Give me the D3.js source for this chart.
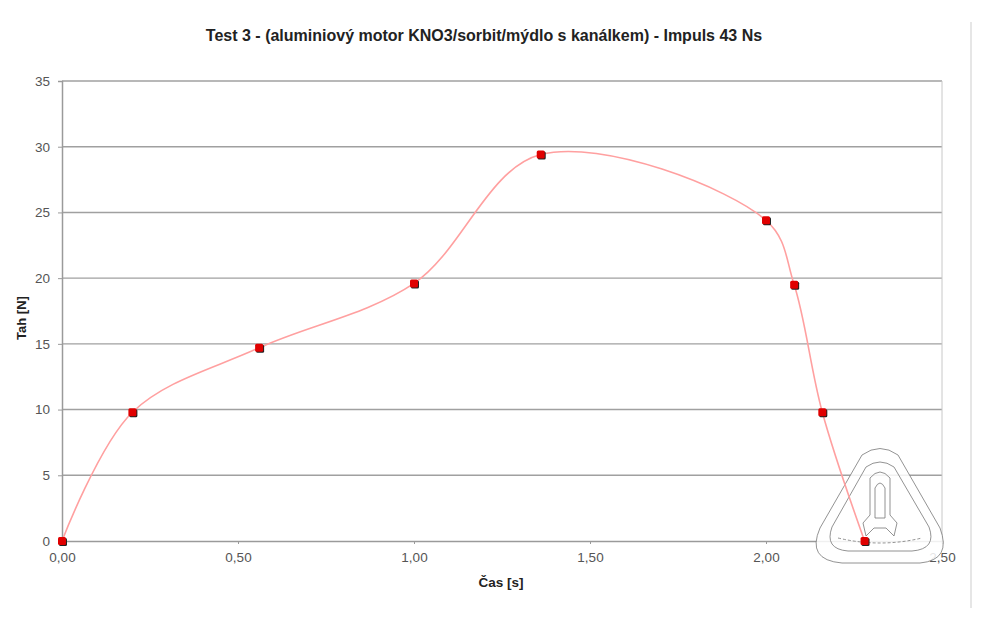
<!DOCTYPE html>
<html>
<head>
<meta charset="utf-8">
<script src="https://cdn.jsdelivr.net/npm/d3@7/dist/d3.min.js"></script>
<style>
  body { margin: 0; background: #fff; }
  svg { display: block; font-family: "Liberation Sans", Arial, sans-serif; }
</style>
</head>
<body>
<script>
// measured thrust curve
var times  = [0, 0.20, 0.56, 1.00, 1.36, 2.00, 2.08, 2.16, 2.28];
var thrust = [0, 9.8, 14.7, 19.6, 29.4, 24.4, 19.5, 9.8, 0];
var xTicks = [0, 0.5, 1.0, 1.5, 2.0, 2.5];
var yTicks = [0, 5, 10, 15, 20, 25, 30, 35];

var W = 1000, H = 621;
var m = {left: 62, right: 58, top: 81, bottom: 80};

var svg = d3.select("body").append("svg").attr("width", W).attr("height", H);

var x = d3.scaleLinear().domain([0, 2.5]).range([m.left, W - m.right]);
var y = d3.scaleLinear().domain([0, 35]).range([H - m.bottom, m.top]);

// right border of the chart area
svg.append("line")
  .attr("x1", 971).attr("x2", 971).attr("y1", 22).attr("y2", 608)
  .attr("stroke", "#e6e6e6").attr("stroke-width", 2);

// gridlines
svg.append("g").selectAll("line").data(yTicks.slice(1)).enter().append("line")
  .attr("x1", x(0)).attr("x2", x(2.5))
  .attr("y1", function(d){ return y(d); }).attr("y2", function(d){ return y(d); })
  .attr("stroke", "#a0a0a0").attr("stroke-width", 1.4);

// plot right edge
svg.append("line")
  .attr("x1", x(2.5)).attr("x2", x(2.5)).attr("y1", y(35)).attr("y2", y(0))
  .attr("stroke", "#c8c8c8").attr("stroke-width", 1);

// axes
var yAxis = d3.axisLeft(y).tickValues(yTicks).tickSize(4).tickPadding(8);
var gy = svg.append("g").attr("transform", "translate(" + x(0) + ",0)").call(yAxis);
var xAxis = d3.axisBottom(x).tickValues(xTicks).tickSize(3).tickPadding(8)
  .tickFormat(function(d){ return d3.format(".2f")(d).replace(".", ","); });
var gx = svg.append("g").attr("transform", "translate(0," + y(0) + ")").call(xAxis);

[gx, gy].forEach(function(g){
  g.select(".domain").attr("stroke", "#9a9a9a").attr("stroke-width", 1.5);
  g.selectAll(".tick line").attr("stroke", "#9a9a9a");
  g.selectAll(".tick text").attr("fill", "#555").style("font-size", "13.5px")
    .style("font-family", "'Liberation Sans', Arial, sans-serif");
});

// watermark logo (rounded triangle with rocket)
var wm = svg.append("g").attr("fill", "none").attr("stroke", "#777").attr("stroke-width", 0.8);
wm.append("path")
  .attr("d", "M862,455 Q880,442 898,455 L940,528 Q952,560 920,563 L842,563 Q806,560 820,528 Z")
  .attr("fill", "rgba(255,255,255,0.85)");
wm.append("path")
  .attr("d", "M866,467 Q880,457 894,467 L929,527 Q937,549 912,551 L848,551 Q824,549 832,527 Z");
wm.append("path")
  .attr("d", "M870,478 Q880,466 890,478 L890,515 L897,523 L894,536 L886,528 L874,528 L866,536 L863,523 L870,515 Z");
wm.append("path")
  .attr("d", "M875,488 Q880,478 885,488 L885,518 L875,518 Z");
wm.append("path")
  .attr("d", "M838,538 Q880,548 922,538").attr("stroke-dasharray", "3,2");

// smoothed series
var pts = times.map(function(t, i){ return [t, thrust[i]]; });
var line = d3.line()
  .x(function(d){ return x(d[0]); })
  .y(function(d){ return y(d[1]); })
  .curve(d3.curveCatmullRom.alpha(0.5));
svg.append("path").datum(pts)
  .attr("d", line)
  .attr("fill", "none").attr("stroke", "#ffa0a0").attr("stroke-width", 1.6);

// markers with shadow
var mk = svg.append("g").selectAll("g").data(pts).enter().append("g")
  .attr("transform", function(d){ return "translate(" + x(d[0]) + "," + y(d[1]) + ")"; });
mk.append("rect").attr("x", -3).attr("y", -3).attr("width", 8).attr("height", 8).attr("rx", 1.5).attr("fill", "#222");
mk.append("rect").attr("x", -4).attr("y", -4).attr("width", 8).attr("height", 8).attr("rx", 1.5).attr("fill", "#e00000");

// titles
svg.append("text")
  .attr("x", 484).attr("y", 41).attr("text-anchor", "middle")
  .style("font-size", "16px").style("font-weight", "bold").attr("fill", "#222")
  .text("Test 3 - (aluminiový motor KNO3/sorbit/mýdlo s kanálkem) - Impuls 43 Ns");

svg.append("text")
  .attr("x", 501).attr("y", 587).attr("text-anchor", "middle")
  .style("font-size", "13.5px").style("font-weight", "bold").attr("fill", "#222")
  .text("Čas [s]");

svg.append("text")
  .attr("transform", "translate(26,318) rotate(-90)").attr("text-anchor", "middle")
  .style("font-size", "13px").style("font-weight", "bold").attr("fill", "#222")
  .text("Tah [N]");
</script>
</body>
</html>
